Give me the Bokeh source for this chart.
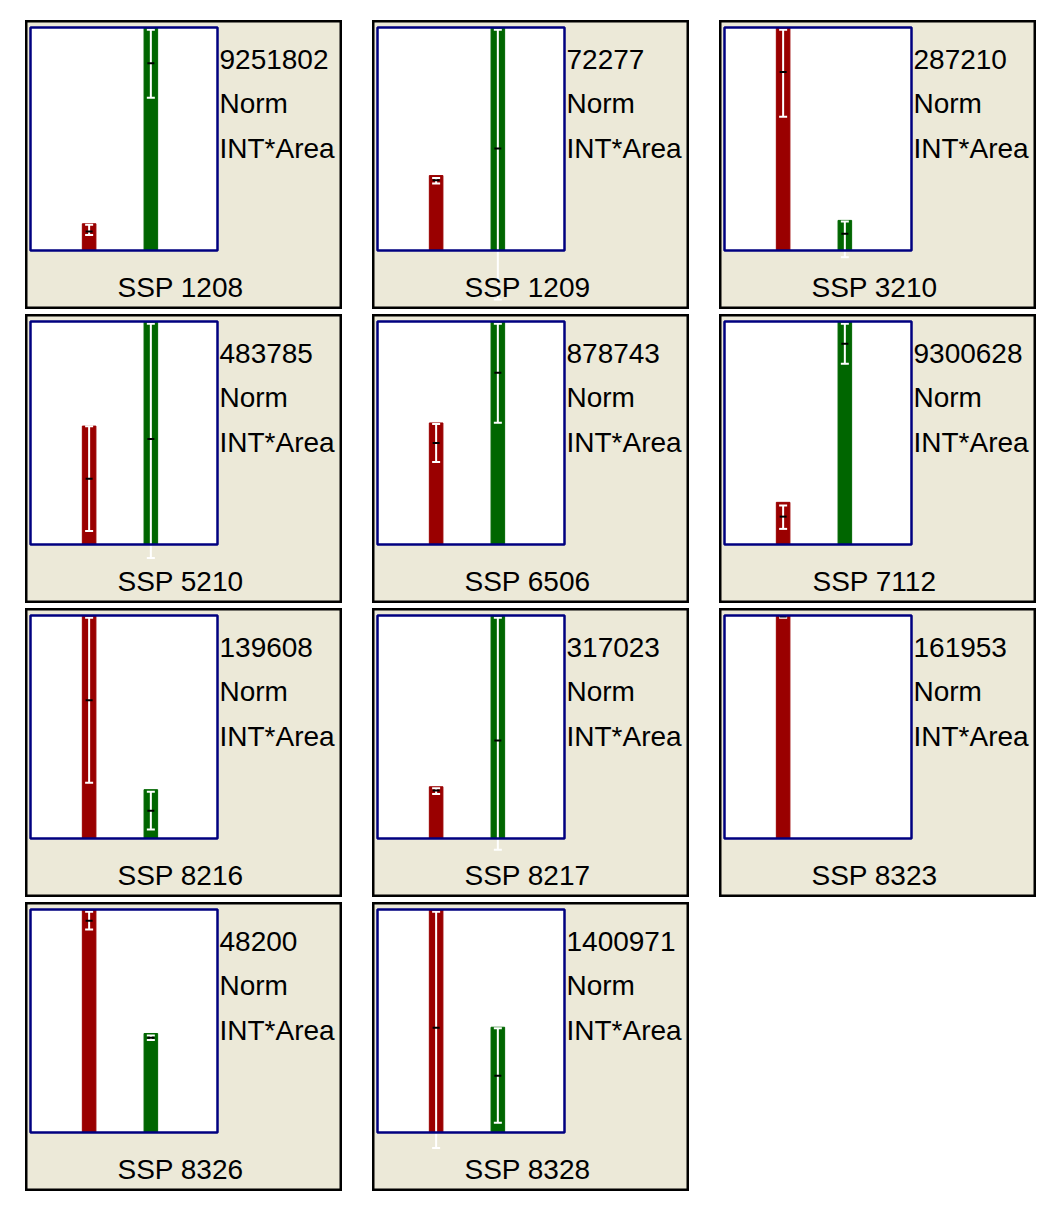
import math
from bokeh.plotting import figure
from bokeh.layouts import row, column
from bokeh.models import Range1d, Label, ColumnDataSource, BoxAnnotation
from bokeh.embed import file_html
from bokeh.resources import INLINE

# ---- data (normalised to the largest value in each panel) ----
labels = ["SSP 1208", "SSP 1209", "SSP 3210", "SSP 5210", "SSP 6506", "SSP 7112",
          "SSP 8216", "SSP 8217", "SSP 8323", "SSP 8326", "SSP 8328"]
totals = ["9251802", "72277", "287210", "483785", "878743", "9300628",
          "139608", "317023", "161953", "48200", "1400971"]
line2 = "Norm"
line3 = "INT*Area"

red_val = [0.12, 0.336, 1.0, 0.531, 0.545, 0.189, 1.0, 0.232, 1.0, 1.0, 1.0]
red_mid = [0.085, 0.315, 0.80, 0.295, 0.455, 0.125, 0.62, 0.215, 0.995, 0.95, 0.47]
red_lo = [0.07, 0.30, 0.60, 0.06, 0.37, 0.07, 0.25, 0.20, 0.99, 0.91, -0.07]
red_hi = [0.115, 0.325, 0.99, 0.53, 0.54, 0.175, 0.99, 0.225, 1.0, 0.99, 0.99]

nan = float("nan")
green_val = [1.0, 1.0, 0.135, 1.0, 1.0, 1.0, 0.219, 1.0, 0.0, 0.444, 0.472]
green_mid = [0.84, 0.457, 0.075, 0.473, 0.77, 0.90, 0.125, 0.44, nan, 0.425, 0.255]
green_lo = [0.685, -0.22, -0.03, -0.06, 0.546, 0.81, 0.04, -0.05, nan, 0.415, 0.044]
green_hi = [0.99, 0.99, 0.13, 0.99, 0.99, 0.99, 0.21, 0.99, nan, 0.435, 0.467]

positions = [1, 2]
X0, X1 = 0.05, 3.08      # data extent of the white plotting box
Y0, Y1 = 0.0, 1.0

RED = "#9A0000"
GREEN = "#006600"
BEIGE = "#ECE9D8"
NAVY = "#000080"

# panel geometry (pixels)
PW, PH = 317, 289
BOX_L, BOX_R, BOX_T, BOX_B = 5, 192, 7, 230
TEXT_X = 194
TEXT_Y = [38.5, 83, 127.5]          # from panel top
CAP_X, CAP_Y = 155, 267             # label centre, from panel top/left

sx = (BOX_R - BOX_L) / (X1 - X0)
sy = (BOX_B - BOX_T) / (Y1 - Y0)
XR = (X0 - BOX_L / sx, X1 + (PW - BOX_R) / sx)
YR = (Y0 - (PH - BOX_B) / sy, Y1 + BOX_T / sy)


def make_panel(i):
    p = figure(width=PW, height=PH, output_backend="svg", toolbar_location=None,
               x_range=Range1d(*XR), y_range=Range1d(*YR),
               x_axis_location=None, y_axis_location=None,
               min_border=0, min_border_left=0, min_border_right=0,
               min_border_top=0, min_border_bottom=0,
               background_fill_color=BEIGE, border_fill_color=BEIGE,
               outline_line_color="black", outline_line_width=4)
    for g in p.grid:
        g.visible = False
    p.add_layout(BoxAnnotation(left=X0, right=X1, bottom=Y0, top=Y1,
                               fill_color="white", fill_alpha=1.0,
                               line_color=None, level="underlay"))
    src = ColumnDataSource(dict(
        x=positions,
        top=[red_val[i], green_val[i]],
        mid=[red_mid[i], green_mid[i]],
        lo=[red_lo[i], green_lo[i]],
        hi=[red_hi[i], green_hi[i]],
        color=[RED, GREEN],
    ))
    p.vbar(x="x", top="top", width=0.22, fill_color="color", line_color="color", source=src)
    p.segment(x0="x", y0="lo", x1="x", y1="hi", line_color="white", line_width=2, source=src)
    p.scatter(x="x", y="lo", marker="dash", size=8, line_color="white", line_width=2, source=src)
    p.scatter(x="x", y="hi", marker="dash", size=8, line_color="white", line_width=2, source=src)
    p.scatter(x="x", y="mid", marker="dash", size=7, line_color="black", line_width=2, source=src)
    p.add_layout(BoxAnnotation(left=X0, right=X1, bottom=Y0, top=Y1,
                               fill_alpha=0.0, line_color=NAVY, line_alpha=1.0,
                               line_width=2.5, level="overlay"))

    for txt, ty in zip([totals[i], line2, line3], TEXT_Y):
        p.add_layout(Label(x=TEXT_X, y=PH - ty, x_units="screen", y_units="screen",
                           text=txt, text_font="Liberation Sans", text_font_size="28px",
                           text_baseline="middle", text_align="left", text_color="black"))
    p.add_layout(Label(x=CAP_X, y=PH - CAP_Y, x_units="screen", y_units="screen",
                       text=labels[i], text_font="Liberation Sans", text_font_size="28px",
                       text_baseline="middle", text_align="center", text_color="black"))
    return p


panels = [make_panel(i) for i in range(len(labels))]
rows = [row(panels[j:j + 3], spacing=30) for j in range(0, len(panels), 3)]
layout = column(*rows, spacing=5, margin=(20, 0, 0, 25))

open("out.html", "w").write(file_html(layout, INLINE))
